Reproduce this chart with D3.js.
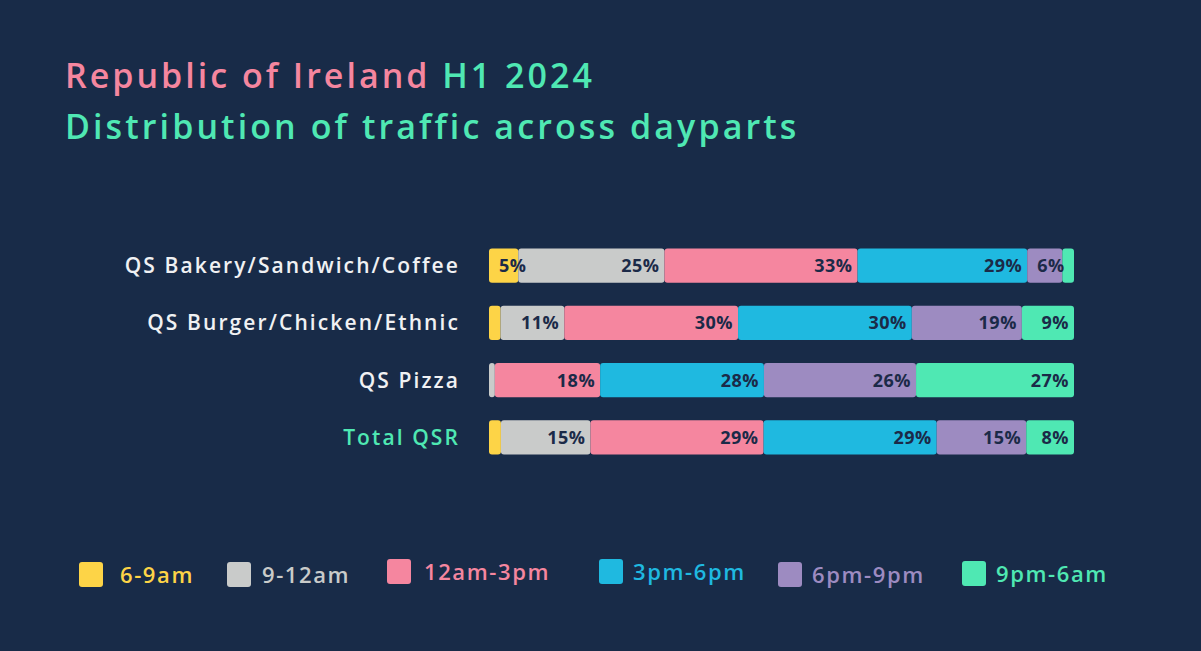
<!DOCTYPE html>
<html><head><meta charset="utf-8">
<script src="https://cdn.jsdelivr.net/npm/d3@7"></script>
<style>
html,body{margin:0;padding:0;background:#182b48;}
svg{display:block;font-family:"Open Sans","Noto Sans",sans-serif;}
</style></head>
<body>
<svg id="c" width="1201" height="651"></svg>
<script>
const categories = ["QS Bakery/Sandwich/Coffee","QS Burger/Chicken/Ethnic","QS Pizza","Total QSR"];
const dayparts = ["6-9am","9-12am","12am-3pm","3pm-6pm","6pm-9pm","9pm-6am"];
const v69am  = [5, 2, 0, 2];
const v912am = [25, 11, 1, 15];
const v12_3  = [33, 30, 18, 29];
const v3_6   = [29, 30, 28, 29];
const v6_9   = [6, 19, 26, 15];
const v9_6   = [2, 9, 27, 8];
const colors = ["#fdd447","#c9cbca","#f5869f","#1fb9e0","#9d8bc1","#4fe8b3"];
const series = [v69am, v912am, v12_3, v3_6, v6_9, v9_6];

const svg = d3.select("#c");
const W = 1201, H = 651;
svg.append("rect").attr("width",W).attr("height",H).attr("fill","#182b48");

// Title
const t1 = svg.append("text").attr("x",65).attr("y",88).attr("font-size",34).attr("font-weight",600)
  .attr("letter-spacing",3);
t1.append("tspan").attr("fill","#f5869f").text("Republic of Ireland ");
t1.append("tspan").attr("fill","#4fe8b3").text("H1 2024");
svg.append("text").attr("x",65).attr("y",139).attr("font-size",34).attr("font-weight",600)
  .attr("letter-spacing",3.1).attr("fill","#4fe8b3").text("Distribution of traffic across dayparts");

// rows
const rows = categories.map((c,i)=>{
  const vals = series.map(s=>s[i]);
  const total = d3.sum(vals);
  let acc = 0;
  const segs = vals.map((v,k)=>{const s={k, v, x0:acc/total*100, x1:(acc+v)/total*100}; acc+=v; return s;});
  return {c, segs};
});

const x = d3.scaleLinear().domain([0,100]).range([489,1074]);
const y = d3.scaleBand().domain(categories).range([237,466]).paddingInner(0.4).paddingOuter(0.2);

const g = svg.append("g");
rows.forEach(r=>{
  const gy = y(r.c), bh = y.bandwidth();
  const rg = g.append("g");
  rg.selectAll("rect").data(r.segs.filter(s=>s.v>0)).join("rect")
    .attr("x",s=>x(s.x0)).attr("width",s=>Math.max(0,x(s.x1)-x(s.x0)))
    .attr("y",gy).attr("height",bh).attr("rx",3)
    .attr("fill",s=>colors[s.k]);
  rg.selectAll("text").data(r.segs.filter(s=>s.v>=5)).join("text")
    .attr("y",gy+bh/2).attr("dy","0.36em")
    .attr("text-anchor","end").attr("font-size",18).attr("font-weight",700)
    .attr("letter-spacing",0.5)
    .attr("fill","#1b2a48").text(s=>s.v+"%")
    .attr("x",function(s){
      const w = this.getComputedTextLength();
      return Math.max(x(s.x1)-5, x(s.x0)+10+w);
    });
  svg.append("text").attr("x",460).attr("y",gy+bh/2).attr("dy","0.36em")
    .attr("text-anchor","end").attr("font-size",21).attr("font-weight",600)
    .attr("letter-spacing",2.1)
    .attr("fill", r.c==="Total QSR" ? "#4fe8b3" : "#f0f1f3").text(r.c);
});

// Legend
const legX = [79, 227, 387, 599, 778, 962];
const legY = [562, 562, 559, 559, 562, 561];
const txtOff = [41, 35, 37, 34, 34, 34];
const lg = svg.append("g");
dayparts.forEach((d,i)=>{
  lg.append("rect").attr("x",legX[i]).attr("y",legY[i]).attr("width",24).attr("height",25)
    .attr("rx",3).attr("fill",colors[i]);
  lg.append("text").attr("x",legX[i]+txtOff[i]).attr("y",legY[i]+21)
    .attr("font-size",22).attr("font-weight",600).attr("letter-spacing",1.6)
    .attr("fill",colors[i]).text(d);
});
</script>
</body></html>
